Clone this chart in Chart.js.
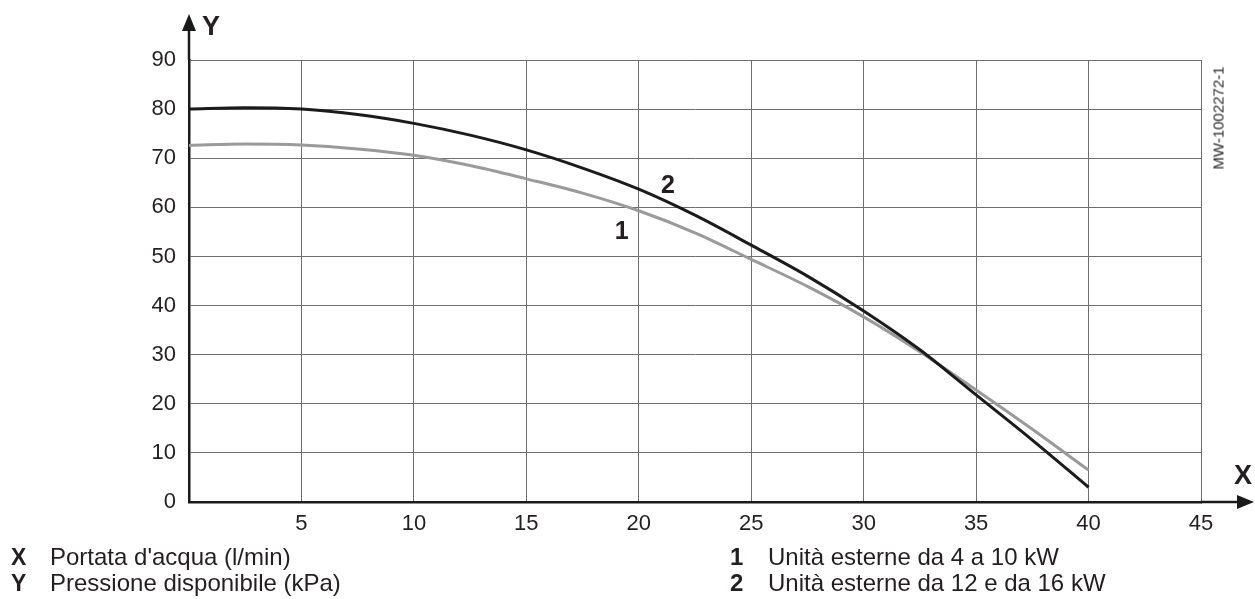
<!DOCTYPE html>
<html>
<head>
<meta charset="utf-8">
<script src="https://cdn.jsdelivr.net/npm/chart.js@4.4.1/dist/chart.umd.min.js"></script>
<style>
  html, body { margin:0; padding:0; background:#fff; }
  #wrap { position:relative; width:1255px; height:599px; overflow:hidden; font-family:"Liberation Sans", Arial, sans-serif; color:#231f20; }
  #c { position:absolute; left:0; top:0; }
  .t { position:absolute; white-space:nowrap; line-height:1; transform:translateY(-50%); }
  .b { font-weight:bold; }
  .c { transform:translate(-50%,-50%); }
</style>
</head>
<body>
<div id="wrap">
  <canvas id="c" width="1255" height="599"></canvas>
  <div class="t c b" style="left:211px;top:26px;font-size:27px;">Y</div>
  <div class="t c b" style="left:1243px;top:475px;font-size:27px;">X</div>
  <div class="t" style="left:1217.5px;top:117.5px;font-size:15px;transform:translate(-50%,-50%) rotate(-90deg);">MW-1002272-1</div>
  <div class="t b" style="left:11px;top:557px;font-size:23px;">X</div>
  <div class="t" style="left:50px;top:557px;font-size:24px;">Portata d'acqua (l/min)</div>
  <div class="t b" style="left:11px;top:583px;font-size:23px;">Y</div>
  <div class="t" style="left:50px;top:583px;font-size:24px;">Pressione disponibile (kPa)</div>
  <div class="t b" style="left:730px;top:557px;font-size:24px;">1</div>
  <div class="t" style="left:768px;top:557px;font-size:24px;">Unità esterne da 4 a 10 kW</div>
  <div class="t b" style="left:730px;top:583px;font-size:24px;">2</div>
  <div class="t" style="left:768px;top:583px;font-size:24px;">Unità esterne da 12 e da 16 kW</div>
  <div id="lab1" class="t c b" style="font-size:25px;">1</div>
  <div id="lab2" class="t c b" style="font-size:25px;">2</div>
</div>
<script>
// ---- data ----
const flowRate = [0, 2.5, 5, 7.5, 10, 12.5, 15, 17.5, 20, 22.5, 25, 27.5, 30, 32.5, 35, 37.5, 40];
const unit1Pressure = [72.6, 72.9, 72.7, 71.9, 70.6, 68.5, 65.8, 62.9, 59.3, 54.8, 49.4, 43.9, 37.7, 30.6, 22.8, 14.8, 6.5];
const unit2Pressure = [80.0, 80.3, 80.0, 78.9, 77.1, 74.7, 71.7, 68.0, 63.7, 58.4, 52.3, 46.0, 38.9, 31.0, 21.8, 12.6, 3.0];
const xTicks = [0, 5, 10, 15, 20, 25, 30, 35, 40, 45];
const yTicks = [0, 10, 20, 30, 40, 50, 60, 70, 80, 90];
const curveLabels = [
  { id: 'lab1', text: '1', x: 19.24, y: 55.4 },
  { id: 'lab2', text: '2', x: 21.3, y: 64.8 }
];

const pts = (ys) => flowRate.map((x, i) => ({ x: x, y: ys[i] }));

const FONT = '"Liberation Sans", Arial, sans-serif';
const AXIS = '#1a1a1a';

const decor = {
  id: 'decor',
  afterDraw(chart) {
    const ctx = chart.ctx;
    const a = chart.chartArea;
    ctx.save();
    ctx.strokeStyle = AXIS;
    ctx.fillStyle = AXIS;
    ctx.lineWidth = 2.5;
    // y axis extension + arrow
    ctx.beginPath();
    ctx.moveTo(a.left, a.top);
    ctx.lineTo(a.left, 28);
    ctx.stroke();
    ctx.beginPath();
    ctx.moveTo(a.left, 14);
    ctx.lineTo(a.left - 7, 31);
    ctx.lineTo(a.left + 7, 31);
    ctx.closePath();
    ctx.fill();
    // x axis extension + arrow
    ctx.beginPath();
    ctx.moveTo(a.right, a.bottom);
    ctx.lineTo(1242, a.bottom);
    ctx.stroke();
    ctx.beginPath();
    ctx.moveTo(1254, a.bottom);
    ctx.lineTo(1237, a.bottom - 7);
    ctx.lineTo(1237, a.bottom + 7);
    ctx.closePath();
    ctx.fill();
    ctx.restore();
    const xs = chart.scales.x, ys = chart.scales.y;
    curveLabels.forEach(l => {
      const el = document.getElementById(l.id);
      el.style.left = xs.getPixelForValue(l.x) + 'px';
      el.style.top = ys.getPixelForValue(l.y) + 'px';
    });
  }
};

new Chart(document.getElementById('c'), {
  type: 'line',
  data: {
    datasets: [
      { label: 'Unità esterne da 12 e da 16 kW', data: pts(unit2Pressure), borderColor: '#1b1b1b', borderWidth: 3, pointRadius: 0, cubicInterpolationMode: 'monotone', order: 0 },
      { label: 'Unità esterne da 4 a 10 kW', data: pts(unit1Pressure), borderColor: '#9a9a9a', borderWidth: 3, pointRadius: 0, cubicInterpolationMode: 'monotone', order: 1 }
    ]
  },
  options: {
    responsive: false,
    animation: false,
    events: [],
    layout: { padding: { left: 0, top: 60, right: 54, bottom: 0 } },
    plugins: { legend: { display: false }, tooltip: { enabled: false } },
    scales: {
      x: {
        type: 'linear', min: 0, max: 45,
        afterBuildTicks: (s) => { s.ticks = xTicks.map(v => ({ value: v })); },
        afterFit: (s) => { s.height = 97; },
        grid: { color: '#6e6e6e', lineWidth: 1, drawTicks: false },
        border: { color: AXIS, width: 2.5 },
        ticks: { color: '#231f20', font: { family: FONT, size: 22 }, padding: 9, maxRotation: 0,
                 callback: (v) => v === 0 ? '' : String(v) }
      },
      y: {
        type: 'linear', min: 0, max: 90,
        afterBuildTicks: (s) => { s.ticks = yTicks.map(v => ({ value: v })); },
        afterFit: (s) => { s.width = 189; },
        grid: { color: '#6e6e6e', lineWidth: 1, drawTicks: false },
        border: { color: AXIS, width: 2.5 },
        ticks: { color: '#231f20', font: { family: FONT, size: 22 }, padding: 13 }
      }
    }
  },
  plugins: [decor]
});
</script>
</body>
</html>
